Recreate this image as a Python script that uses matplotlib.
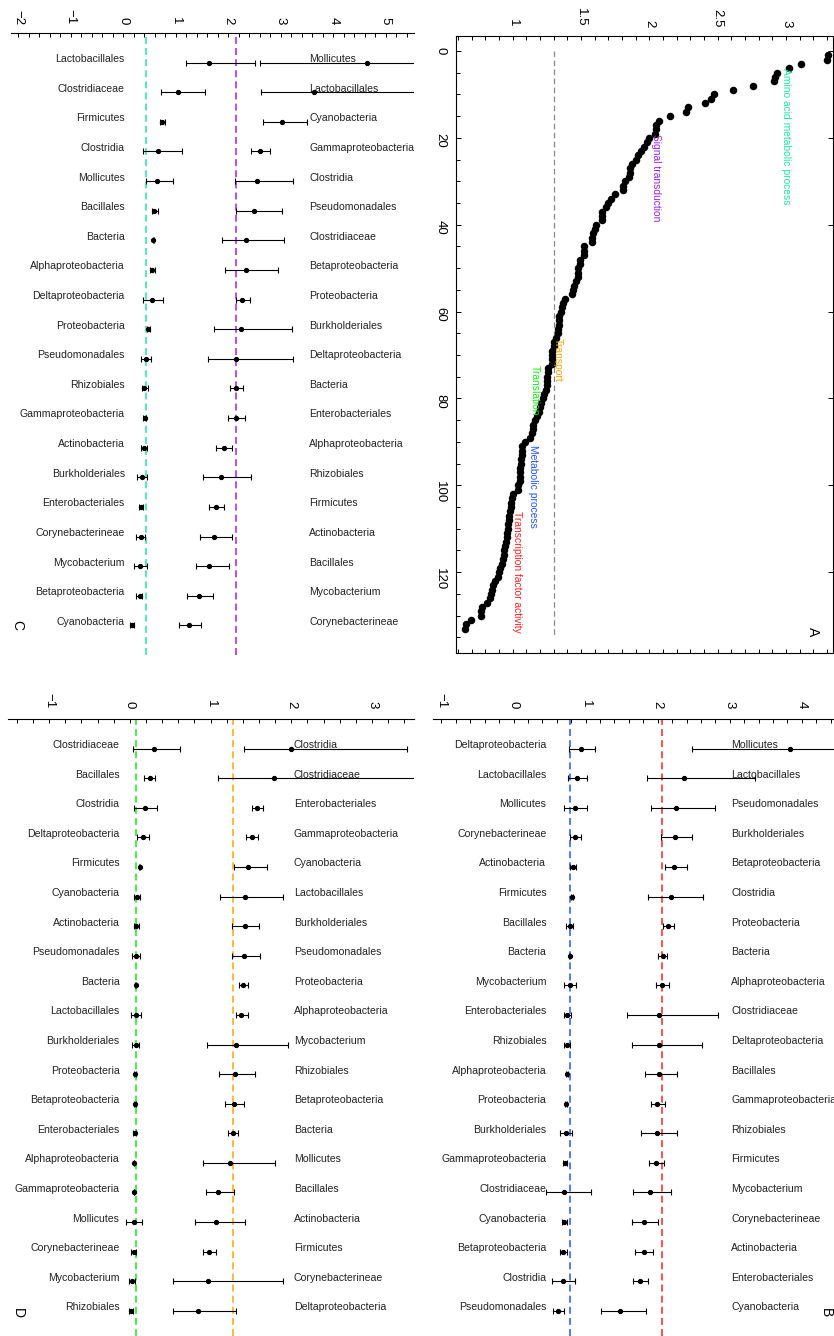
import numpy as np
import matplotlib
matplotlib.use('Agg')
import matplotlib.pyplot as plt
from matplotlib.ticker import MultipleLocator

plt.rcParams['font.family'] = ['Liberation Sans', 'DejaVu Sans']
plt.rcParams['lines.scale_dashes'] = False

# ---------------- data ----------------
# panel A: sorted scores of the 133 terms
scores_A = [3.31, 3.30, 3.11, 3.02, 2.93, 2.92, 2.91, 2.76, 2.61, 2.47,
            2.45, 2.41, 2.28, 2.27, 2.15, 2.07, 2.05, 2.05, 2.04, 2.00,
            1.98, 1.96, 1.94, 1.92, 1.90, 1.87, 1.86, 1.86, 1.85, 1.82,
            1.81, 1.81, 1.75, 1.72, 1.70, 1.68, 1.65, 1.65, 1.65, 1.61,
            1.60, 1.59, 1.58, 1.58, 1.52, 1.52, 1.52, 1.49, 1.49, 1.48,
            1.48, 1.48, 1.46, 1.45, 1.44, 1.43, 1.38, 1.37, 1.36, 1.35,
            1.34, 1.34, 1.34, 1.33, 1.33, 1.32, 1.30, 1.30, 1.29, 1.29,
            1.29, 1.29, 1.26, 1.26, 1.25, 1.25, 1.25, 1.24, 1.23, 1.22,
            1.21, 1.20, 1.19, 1.18, 1.16, 1.15, 1.15, 1.14, 1.13, 1.09,
            1.07, 1.07, 1.07, 1.06, 1.06, 1.05, 1.05, 1.05, 1.05, 1.04,
            1.04, 1.00, 0.995, 0.99, 0.985, 0.98, 0.975, 0.97, 0.968, 0.966,
            0.961, 0.956, 0.951, 0.946, 0.939, 0.934, 0.927, 0.920, 0.909, 0.900,
            0.890, 0.871, 0.854, 0.849, 0.841, 0.834, 0.810, 0.775, 0.768, 0.766,
            0.697, 0.658, 0.653]
cutoff_A = 1.30
go_terms = ['Amino acid metabolic process', 'Signal transduction', 'Transport',
            'Translation', 'Metabolic process', 'Transcription factor activity']
go_score = [3.00, 2.05, 1.33, 1.16, 1.15, 1.03]
go_rank = [4.0, 19.0, 66.0, 72.4, 90.6, 106.0]

c_amino = '#1fe6a8'
c_signal = '#a020f0'
c_transport = '#ffa500'
c_translation = '#11ee11'
c_metabolic = '#2255ff'
c_tf = '#ff2020'
go_colors = [c_amino, c_signal, c_transport, c_translation, c_metabolic, c_tf]

# panel C: amino acid metabolic process (left) / signal transduction (right)
C_left_names = ['Lactobacillales', 'Clostridiaceae', 'Firmicutes', 'Clostridia', 'Mollicutes',
                'Bacillales', 'Bacteria', 'Alphaproteobacteria', 'Deltaproteobacteria', 'Proteobacteria',
                'Pseudomonadales', 'Rhizobiales', 'Gammaproteobacteria', 'Actinobacteria', 'Burkholderiales',
                'Enterobacteriales', 'Corynebacterineae', 'Mycobacterium', 'Betaproteobacteria', 'Cyanobacteria']
C_left_mean = [1.64, 1.04, 0.74, 0.67, 0.65, 0.59, 0.57, 0.55, 0.54, 0.48,
               0.43, 0.40, 0.41, 0.39, 0.36, 0.34, 0.33, 0.32, 0.31, 0.16]
C_left_lo = [1.19, 0.72, 0.69, 0.37, 0.43, 0.54, 0.56, 0.50, 0.38, 0.46,
             0.33, 0.36, 0.38, 0.33, 0.27, 0.29, 0.25, 0.20, 0.25, 0.12]
C_left_hi = [2.51, 1.55, 0.79, 1.12, 0.94, 0.66, 0.58, 0.60, 0.75, 0.50,
             0.52, 0.48, 0.44, 0.45, 0.45, 0.38, 0.42, 0.46, 0.36, 0.20]
C_right_names = ['Mollicutes', 'Lactobacillales', 'Cyanobacteria', 'Gammaproteobacteria', 'Clostridia',
                 'Pseudomonadales', 'Clostridiaceae', 'Betaproteobacteria', 'Proteobacteria', 'Burkholderiales',
                 'Deltaproteobacteria', 'Bacteria', 'Enterobacteriales', 'Alphaproteobacteria', 'Rhizobiales',
                 'Firmicutes', 'Actinobacteria', 'Bacillales', 'Mycobacterium', 'Corynebacterineae']
C_right_mean = [4.65, 3.63, 3.03, 2.61, 2.55, 2.50, 2.33, 2.33, 2.27, 2.24,
                2.15, 2.15, 2.15, 1.91, 1.87, 1.76, 1.73, 1.64, 1.44, 1.25]
C_right_lo = [2.60, 2.63, 2.67, 2.44, 2.12, 2.14, 1.89, 1.93, 2.15, 1.72,
              1.62, 2.04, 1.99, 1.76, 1.52, 1.63, 1.47, 1.38, 1.22, 1.07]
C_right_hi = [6.70, 6.00, 3.51, 2.80, 3.24, 3.02, 3.06, 2.95, 2.41, 3.22,
              3.23, 2.28, 2.32, 2.08, 2.43, 1.92, 2.08, 2.01, 1.71, 1.49]
C_lines = [0.43, 2.15]

# panel D: translation (left) / transport (right)
D_left_names = ['Clostridiaceae', 'Bacillales', 'Clostridia', 'Deltaproteobacteria', 'Firmicutes',
                'Cyanobacteria', 'Actinobacteria', 'Pseudomonadales', 'Bacteria', 'Lactobacillales',
                'Burkholderiales', 'Proteobacteria', 'Betaproteobacteria', 'Enterobacteriales', 'Alphaproteobacteria',
                'Gammaproteobacteria', 'Mollicutes', 'Corynebacterineae', 'Mycobacterium', 'Rhizobiales']
D_left_mean = [0.30, 0.25, 0.19, 0.16, 0.12, 0.09, 0.08, 0.08, 0.07, 0.07,
               0.07, 0.06, 0.06, 0.06, 0.05, 0.05, 0.05, 0.05, 0.03, 0.02]
D_left_lo = [0.04, 0.18, 0.05, 0.09, 0.11, 0.05, 0.05, 0.03, 0.065, 0.01,
             0.03, 0.05, 0.05, 0.04, 0.045, 0.045, -0.05, 0.02, -0.01, -0.01]
D_left_hi = [0.62, 0.31, 0.33, 0.24, 0.13, 0.12, 0.11, 0.13, 0.075, 0.14,
             0.11, 0.07, 0.07, 0.08, 0.055, 0.055, 0.15, 0.08, 0.06, 0.04]
D_right_names = ['Clostridia', 'Clostridiaceae', 'Enterobacteriales', 'Gammaproteobacteria', 'Cyanobacteria',
                 'Lactobacillales', 'Burkholderiales', 'Pseudomonadales', 'Proteobacteria', 'Alphaproteobacteria',
                 'Mycobacterium', 'Rhizobiales', 'Betaproteobacteria', 'Bacteria', 'Mollicutes',
                 'Bacillales', 'Actinobacteria', 'Firmicutes', 'Corynebacterineae', 'Deltaproteobacteria']
D_right_mean = [2.00, 1.79, 1.58, 1.51, 1.46, 1.43, 1.43, 1.42, 1.40, 1.38,
                1.32, 1.30, 1.29, 1.28, 1.24, 1.09, 1.07, 0.98, 0.97, 0.84]
D_right_lo = [1.42, 1.09, 1.51, 1.44, 1.29, 1.12, 1.27, 1.26, 1.35, 1.31,
              0.96, 1.11, 1.18, 1.22, 0.90, 0.94, 0.81, 0.91, 0.54, 0.54]
D_right_hi = [3.43, 3.80, 1.65, 1.59, 1.70, 1.90, 1.60, 1.61, 1.46, 1.46,
              1.96, 1.55, 1.42, 1.34, 1.80, 1.29, 1.43, 1.07, 1.90, 1.31]
D_lines = [0.08, 1.28]

# panel B: metabolic process (left) / transcription factor activity (right)
B_left_names = ['Deltaproteobacteria', 'Lactobacillales', 'Mollicutes', 'Corynebacterineae', 'Actinobacteria',
                'Firmicutes', 'Bacillales', 'Bacteria', 'Mycobacterium', 'Enterobacteriales',
                'Rhizobiales', 'Alphaproteobacteria', 'Proteobacteria', 'Burkholderiales', 'Gammaproteobacteria',
                'Clostridiaceae', 'Cyanobacteria', 'Betaproteobacteria', 'Clostridia', 'Pseudomonadales']
B_left_mean = [0.93, 0.88, 0.85, 0.85, 0.82, 0.81, 0.78, 0.78, 0.78, 0.74,
               0.74, 0.74, 0.73, 0.73, 0.71, 0.70, 0.70, 0.69, 0.68, 0.61]
B_left_lo = [0.77, 0.75, 0.70, 0.79, 0.79, 0.80, 0.73, 0.77, 0.70, 0.70,
             0.70, 0.73, 0.72, 0.65, 0.69, 0.45, 0.67, 0.64, 0.53, 0.55]
B_left_hi = [1.13, 1.02, 1.02, 0.93, 0.86, 0.82, 0.83, 0.79, 0.87, 0.80,
             0.79, 0.75, 0.74, 0.81, 0.74, 1.08, 0.74, 0.74, 0.85, 0.70]
B_right_names = ['Mollicutes', 'Lactobacillales', 'Pseudomonadales', 'Burkholderiales', 'Betaproteobacteria',
                 'Clostridia', 'Proteobacteria', 'Bacteria', 'Alphaproteobacteria', 'Clostridiaceae',
                 'Deltaproteobacteria', 'Bacillales', 'Gammaproteobacteria', 'Rhizobiales', 'Firmicutes',
                 'Mycobacterium', 'Corynebacterineae', 'Actinobacteria', 'Enterobacteriales', 'Cyanobacteria']
B_right_mean = [3.84, 2.37, 2.26, 2.24, 2.23, 2.18, 2.14, 2.07, 2.06, 2.02,
                2.02, 2.02, 1.99, 1.99, 1.98, 1.89, 1.81, 1.81, 1.75, 1.48]
B_right_lo = [2.48, 1.85, 1.91, 2.05, 2.10, 1.86, 2.08, 2.01, 1.97, 1.57,
              1.64, 1.83, 1.91, 1.77, 1.88, 1.66, 1.64, 1.69, 1.66, 1.22]
B_right_hi = [5.20, 3.35, 2.80, 2.48, 2.40, 2.63, 2.23, 2.13, 2.16, 2.83,
              2.62, 2.27, 2.10, 2.27, 2.09, 2.19, 2.01, 1.94, 1.87, 1.84]
B_lines = [0.78, 2.06]

# ---------------- layout ----------------
W, H = 834, 1336
fig = plt.figure(figsize=(W / 100, H / 100), dpi=100)


def px_axes(left, top, right, bottom):
    return fig.add_axes([left / W, 1 - bottom / H, (right - left) / W, (bottom - top) / H])


def error_panel(ax, xlim, ylim, left, right, lines, colors, lab_x, pad):
    ax.set_xlim(*xlim)
    ax.set_ylim(*ylim)
    for s in ['left', 'right', 'bottom']:
        ax.spines[s].set_visible(False)
    ax.spines['top'].set_linewidth(0.8)
    ax.xaxis.set_major_locator(MultipleLocator(1))
    ax.xaxis.set_minor_locator(MultipleLocator(0.2))
    ax.tick_params(axis='x', which='both', top=True, bottom=False, labeltop=True,
                   labelbottom=False, direction='in', length=3, width=0.7,
                   labelrotation=-90, labelsize=9.5, pad=pad)
    ax.set_yticks([])
    for v, c in zip(lines, colors):
        ax.axvline(v, color=c, lw=1.1, ls=(0, (5, 3)), zorder=1)
    for (names, mean, lo, hi), x_lab, ha in zip([left, right], lab_x, ['right', 'left']):
        mean = np.array(mean)
        rows = np.arange(1, len(mean) + 1)
        ax.errorbar(mean, rows, xerr=[mean - np.array(lo), np.array(hi) - mean],
                    fmt='o', ms=2.8, color='black', ecolor='black', elinewidth=0.8,
                    capsize=2, capthick=0.8, zorder=3)
        for r, n in zip(rows, names):
            ax.text(x_lab, r - 0.12, n, ha=ha, va='center', fontsize=7.6, color='#222222')


# panel C
axC = px_axes(11, 33, 414, 655)
error_panel(axC, (-2.14, 5.54), (21, 0),
            (C_left_names, C_left_mean, C_left_lo, C_left_hi),
            (C_right_names, C_right_mean, C_right_lo, C_right_hi),
            C_lines, [c_amino, c_signal], (0.03, 3.54), 6)

# panel D
axD = px_axes(8, 719, 414, 1336)
error_panel(axD, (-1.51, 3.52), (20.85, 0),
            (D_left_names, D_left_mean, D_left_lo, D_left_hi),
            (D_right_names, D_right_mean, D_right_lo, D_right_hi),
            D_lines, [c_translation, c_transport], (-0.13, 2.03), 8)

# panel B
axB = px_axes(433, 719, 834, 1336)
error_panel(axB, (-1.117, 4.445), (20.85, 0),
            (B_left_names, B_left_mean, B_left_lo, B_left_hi),
            (B_right_names, B_right_mean, B_right_lo, B_right_hi),
            B_lines, [c_metabolic, c_tf], (0.455, 3.02), 8)

# panel A
axA = px_axes(456, 36, 833, 653)
rank = np.arange(1, len(scores_A) + 1)
axA.plot(scores_A, rank, 'o', color='black', ms=4.4, zorder=3)
axA.plot([cutoff_A, cutoff_A], [0, 135], color='#888888', lw=0.9, ls=(0, (4, 2.5)), zorder=1)
for t, xv, yv, c in zip(go_terms, go_score, go_rank, go_colors):
    axA.text(xv, yv, t, rotation=-90, ha='center', va='top', fontsize=7.4, color=c, zorder=4)
axA.set_xlim(0.585, 3.343)
axA.set_ylim(138.6, -3.46)
for s in axA.spines.values():
    s.set_linewidth(0.8)
axA.set_xticks([1, 1.5, 2, 2.5, 3], labels=['1', '1.5', '2', '2.5', '3'])
axA.xaxis.set_minor_locator(MultipleLocator(0.1))
axA.yaxis.set_major_locator(MultipleLocator(20))
axA.yaxis.set_minor_locator(MultipleLocator(5))
axA.tick_params(axis='x', which='both', top=True, bottom=True, labeltop=True, labelbottom=False,
                direction='in', length=3, width=0.7, labelrotation=-90, labelsize=9.5, pad=6.5)
axA.tick_params(axis='y', which='major', left=True, right=True, direction='in', length=3.5,
                width=0.7, labelrotation=-90, labelsize=9.5, pad=7)
axA.tick_params(axis='y', which='minor', left=True, right=False, direction='in', length=3, width=0.7)

# panel letters
for lab, x, y in [('A', 813, 632), ('B', 826, 1313), ('C', 17, 625), ('D', 18, 1313)]:
    fig.text(x / W, 1 - y / H, lab, rotation=-90, ha='center', va='center', fontsize=10)

fig.savefig('out.png', dpi=100)
